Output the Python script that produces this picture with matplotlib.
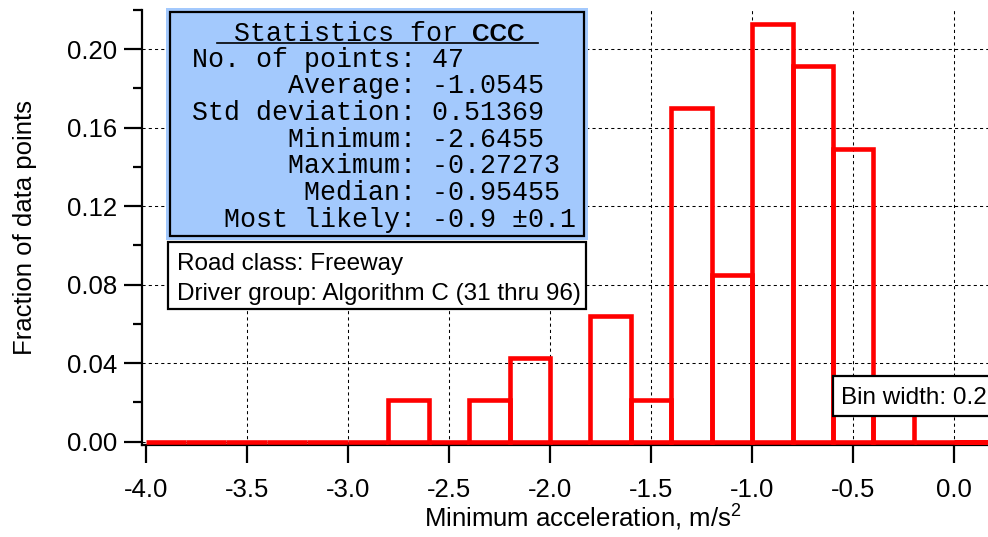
import numpy as np
import matplotlib
matplotlib.use('Agg')
import matplotlib.pyplot as plt
from matplotlib.patches import Rectangle
from matplotlib.lines import Line2D
from matplotlib.ticker import MultipleLocator, FormatStrFormatter

# histogram data (counts per 0.2 bin, starting at -4.0)
bin_start = -4.0
bin_width = 0.2
counts = [0, 0, 0, 0, 0, 0, 1, 0, 1, 2, 0, 3, 1, 8, 4, 10, 9, 7, 1, 0, 0, 0]
n_points = 47

stat_labels = ['No. of points', 'Average', 'Std deviation', 'Minimum',
               'Maximum', 'Median', 'Most likely']
stat_values = ['47', '-1.0545', '0.51369', '-2.6455', '-0.27273',
               '-0.95455', '-0.9 \u00b10.1']
info_lines = ['Road class: Freeway', 'Driver group: Algorithm C (31 thru 96)']

plt.rcParams['font.family'] = ['Liberation Sans', 'DejaVu Sans']
plt.rcParams['axes.unicode_minus'] = False
plt.rcParams['mathtext.default'] = 'regular'

W, H = 988, 537
fig = plt.figure(figsize=(W / 100, H / 100), dpi=100)

def fx(x):
    return x / W

def fy(y):
    return 1 - y / H

# axes frame: left spine at x=142, bottom spine at y=445 (pixels)
ax = fig.add_axes([fx(142), fy(445), fx(988) - fx(142), fy(10) - fy(445)])

lefts = bin_start + bin_width * np.arange(len(counts))
fracs = np.array(counts) / n_points
ax.bar(lefts, fracs, width=bin_width, align='edge', fill=False,
       edgecolor='#ff0000', linewidth=3.3, zorder=3)

ax.set_xlim(-4.018, 0.167)
ax.set_ylim(-0.0017, 0.22)
ax.xaxis.set_major_locator(MultipleLocator(0.5))
ax.xaxis.set_major_formatter(FormatStrFormatter('%.1f'))
ax.yaxis.set_major_locator(MultipleLocator(0.04))
ax.yaxis.set_minor_locator(MultipleLocator(0.02))
ax.yaxis.set_major_formatter(FormatStrFormatter('%.2f'))

for s in ['top', 'right']:
    ax.spines[s].set_visible(False)
for s in ['left', 'bottom']:
    ax.spines[s].set_linewidth(1.6)

ax.tick_params(axis='both', which='major', direction='out', length=13,
               width=1.6, labelsize=18.5, colors='black')
ax.tick_params(axis='y', which='minor', direction='out', length=6.5, width=1.6)
ax.tick_params(axis='x', which='major', pad=11)
ax.tick_params(axis='y', which='major', pad=5)

ax.set_axisbelow(True)
ax.grid(True, which='major', color='black', linestyle=(0, (3, 3)), linewidth=0.75)

ax.set_xlabel('Minimum acceleration, m/s$^{2}$', fontsize=18.5)
ax.xaxis.set_label_coords(0.521, -0.188)
ax.xaxis.label.set_va('baseline')
ax.set_ylabel('Fraction of data points', fontsize=18.5)
ax.yaxis.set_label_coords(-0.138, 0.5)
ax.yaxis.label.set_va('center')

# no grid line on the axis itself
fig.canvas.draw()
for loc, gl in zip(ax.get_xticks(), ax.get_xgridlines()):
    if abs(loc - bin_start) < 1e-6:
        gl.set_visible(False)

# statistics box
fig.add_artist(Rectangle((fx(166), fy(240)), fx(588) - fx(166), fy(8) - fy(240),
                         transform=fig.transFigure, facecolor='#a3c9fd',
                         edgecolor='none', zorder=5))
fig.add_artist(Rectangle((fx(170), fy(236)), fx(584) - fx(170), fy(12) - fy(236),
                         transform=fig.transFigure, facecolor='none',
                         edgecolor='black', linewidth=1.6, zorder=6))
fig.text(fx(234), fy(40.7), 'Statistics for', family='Liberation Mono',
         fontsize=19.2, va='baseline', zorder=7)
fig.text(fx(472), fy(40.7), 'CCC', family='Liberation Sans', fontweight='bold',
         fontsize=17.5, va='baseline', zorder=7)
fig.add_artist(Line2D([fx(217), fx(538)], [fy(43), fy(43)], transform=fig.transFigure,
                      color='black', linewidth=1.2, zorder=7))

for i, (lab, val) in enumerate(zip(stat_labels, stat_values)):
    line = lab.rjust(13) + ': ' + val
    fig.text(fx(192), fy(66.7 + 26.67 * i), line, family='Liberation Mono',
             fontsize=19.2, va='baseline', zorder=7)

# road class / driver group box
fig.add_artist(Rectangle((fx(168), fy(309)), fx(586) - fx(168), fy(242) - fy(309),
                         transform=fig.transFigure, facecolor='white',
                         edgecolor='black', linewidth=1.6, zorder=5))
for i, t in enumerate(info_lines):
    fig.text(fx(177), fy(270 + 30 * i), t, fontsize=17.5, va='baseline', zorder=7)

# bin width box
fig.add_artist(Rectangle((fx(833), fy(416)), fx(1000) - fx(833), fy(376) - fy(416),
                         transform=fig.transFigure, facecolor='white',
                         edgecolor='black', linewidth=1.6, zorder=5))
fig.text(fx(841), fy(403.5), 'Bin width: %.1f' % bin_width, fontsize=17.5,
         va='baseline', zorder=7)

fig.savefig('out.png', dpi=100)
